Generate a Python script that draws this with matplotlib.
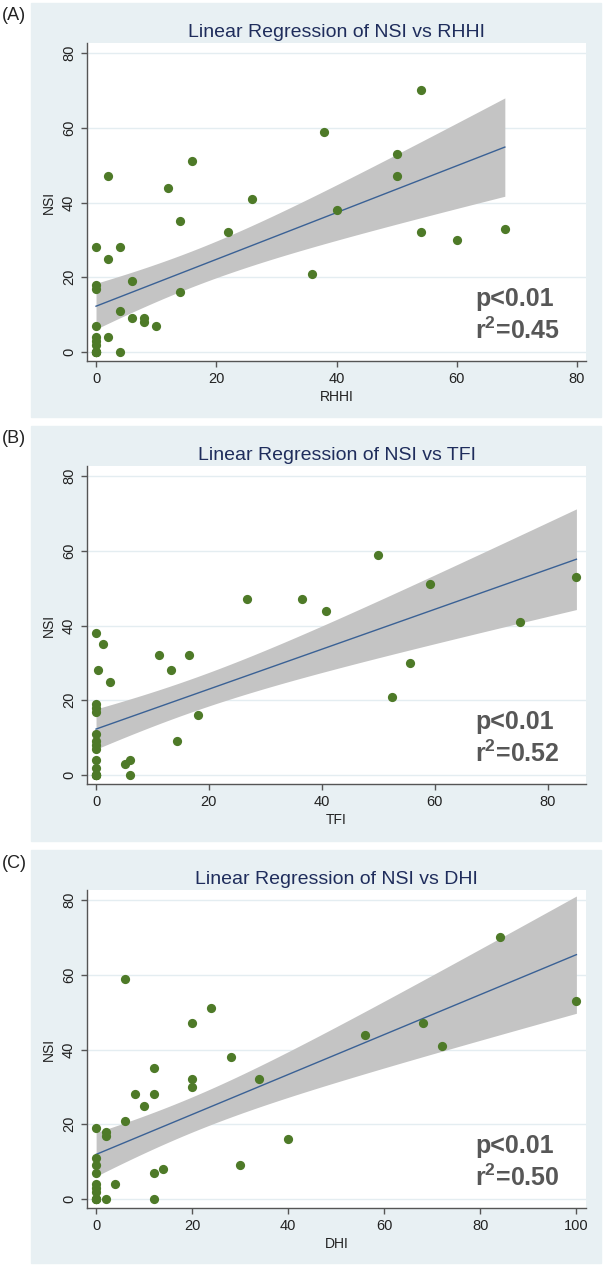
import numpy as np
import matplotlib
matplotlib.use("Agg")
from matplotlib import pyplot as plt
from matplotlib.patches import Rectangle

plt.rcParams['font.family'] = ['Liberation Sans', 'DejaVu Sans']
plt.rcParams['mathtext.fontset'] = 'custom'
plt.rcParams['mathtext.rm'] = 'Liberation Sans'
plt.rcParams['mathtext.bf'] = 'Liberation Sans:bold'

# ---- data (some points overlap at 0,0) ----
rhhi = [0, 0, 0, 0, 0, 0, 0, 0, 0, 0, 0, 0, 2, 2, 2, 4, 4, 4, 6, 6, 8, 8, 10, 12,
        14, 14, 16, 22, 26, 36, 38, 40, 50, 50, 54, 54, 60, 68]
nsi_a = [28, 18, 17, 7, 4, 3, 2, 0, 0, 0, 0, 0, 47, 25, 4, 28, 11, 0, 19, 9, 9, 8, 7, 44,
         35, 16, 51, 32, 41, 21, 59, 38, 53, 47, 70, 32, 30, 33]

tfi = [0, 0, 0, 0, 0, 0, 0, 0, 0, 0, 0, 0, 0, 0, 0, 0.4, 1.2, 2.4, 5.2, 6.1, 6.1,
       11.1, 13.2, 14.4, 16.4, 18.0, 26.8, 36.4, 40.8, 49.9, 52.4, 55.6, 59.2, 75.1, 85.1]
nsi_b = [38, 19, 18, 17, 11, 9, 8, 7, 4, 2, 0, 0, 0, 0, 0, 28, 35, 25, 3, 4, 0,
         32, 28, 9, 32, 16, 47, 47, 44, 59, 21, 30, 51, 41, 53]

dhi = [0, 0, 0, 0, 0, 0, 0, 0, 0, 0, 0, 2, 2, 2, 4, 6, 6, 8, 10, 12, 12, 12, 12, 14,
       20, 20, 20, 24, 28, 30, 34, 40, 56, 68, 72, 84, 100]
nsi_c = [19, 11, 9, 7, 4, 3, 2, 0, 0, 0, 0, 18, 17, 0, 4, 59, 21, 28, 25, 35, 28, 7, 0, 8,
         47, 32, 30, 51, 38, 9, 32, 16, 44, 47, 41, 70, 53]

stats_a = ["p<0.01", r"r$^\mathbf{2}$=0.45"]
stats_b = ["p<0.01", r"r$^\mathbf{2}$=0.52"]
stats_c = ["p<0.01", r"r$^\mathbf{2}$=0.50"]

W, H = 609, 1269
BG = '#e8f0f3'
DOT = '#4e7a28'
BAND = '#c4c4c4'
LINE = '#3a6195'
TITLE = '#1f2d5c'
T975 = 2.03  # t quantile, ~35 df


def fx(px):
    return px / W


def fy(py):
    return 1 - py / H


def panel(fig, letter, box, axbox, x, y, xname, xlim, xticks, stats):
    # light bluish panel background
    x0, y0, x1, y1 = box
    fig.add_artist(Rectangle((fx(x0), fy(y1)), fx(x1 - x0), (y1 - y0) / H,
                             transform=fig.transFigure, color=BG, zorder=-5))
    fig.text(fx(2), fy(y0 + 13), letter, fontsize=13, color='#222222', va='center', ha='left')

    l, t, r, b = axbox
    ax = fig.add_axes([fx(l), fy(b), fx(r - l), (b - t) / H])
    ax.set_facecolor('white')

    x = np.array(x, dtype=float)
    y = np.array(y, dtype=float)
    n = len(x)
    xm, ym = x.mean(), y.mean()
    sxx = ((x - xm) ** 2).sum()
    slope = ((x - xm) * (y - ym)).sum() / sxx
    icpt = ym - slope * xm
    resid = y - (icpt + slope * x)
    s = np.sqrt((resid ** 2).sum() / (n - 2))
    xs = np.linspace(x.min(), x.max(), 200)
    fit = icpt + slope * xs
    se = s * np.sqrt(1.0 / n + (xs - xm) ** 2 / sxx)

    ax.fill_between(xs, fit - T975 * se, fit + T975 * se, color=BAND, lw=0, zorder=1)
    ax.plot(xs, fit, color=LINE, lw=1.0, zorder=2)
    ax.scatter(x, y, s=44, color=DOT, lw=0, zorder=3)

    ax.set_xlim(*xlim)
    ax.set_ylim(-2.4, 82.7)
    ax.set_xticks(xticks)
    ax.set_yticks([0, 20, 40, 60, 80])
    ax.grid(axis='y', color='#e4edf1', lw=1.0)
    ax.set_axisbelow(True)
    for sp in ['top', 'right']:
        ax.spines[sp].set_visible(False)
    for sp in ['left', 'bottom']:
        ax.spines[sp].set_color('#555555')
        ax.spines[sp].set_linewidth(1.0)
    ax.tick_params(length=4, width=1.0, color='#555555', labelsize=10.5, labelcolor='#222222')
    ax.tick_params(axis='x', pad=4)
    ax.tick_params(axis='y', pad=4, labelrotation=90)
    for lab in ax.get_yticklabels():
        lab.set_va('center')

    ax.set_xlabel(xname, fontsize=10, color='#222222', labelpad=3)
    ax.set_ylabel('NSI', fontsize=10, color='#222222', labelpad=4)
    ax.set_title('Linear Regression of NSI vs ' + xname, fontsize=14, color=TITLE, pad=4)

    ax.text(0.778, 0.173, stats[0], transform=ax.transAxes, fontsize=18,
            fontweight='bold', color='#575757', ha='left', va='baseline')
    ax.text(0.778, 0.069, stats[1], transform=ax.transAxes, fontsize=18,
            fontweight='bold', color='#575757', ha='left', va='baseline')
    return ax


fig = plt.figure(figsize=(W / 100, H / 100), dpi=100)
fig.patch.set_facecolor('white')

panel(fig, '(A)', (31, 3, 601, 417), (87, 43, 586, 361),
      rhhi, nsi_a, 'RHHI', (-1.5, 81.5), [0, 20, 40, 60, 80], stats_a)
panel(fig, '(B)', (31, 426, 601, 841), (87, 466, 586, 784),
      tfi, nsi_b, 'TFI', (-1.6, 86.8), [0, 20, 40, 60, 80], stats_b)
panel(fig, '(C)', (31, 850, 601, 1263), (87, 890, 586, 1208),
      dhi, nsi_c, 'DHI', (-1.9, 102.0), [0, 20, 40, 60, 80, 100], stats_c)

fig.savefig('out.png', dpi=100)
